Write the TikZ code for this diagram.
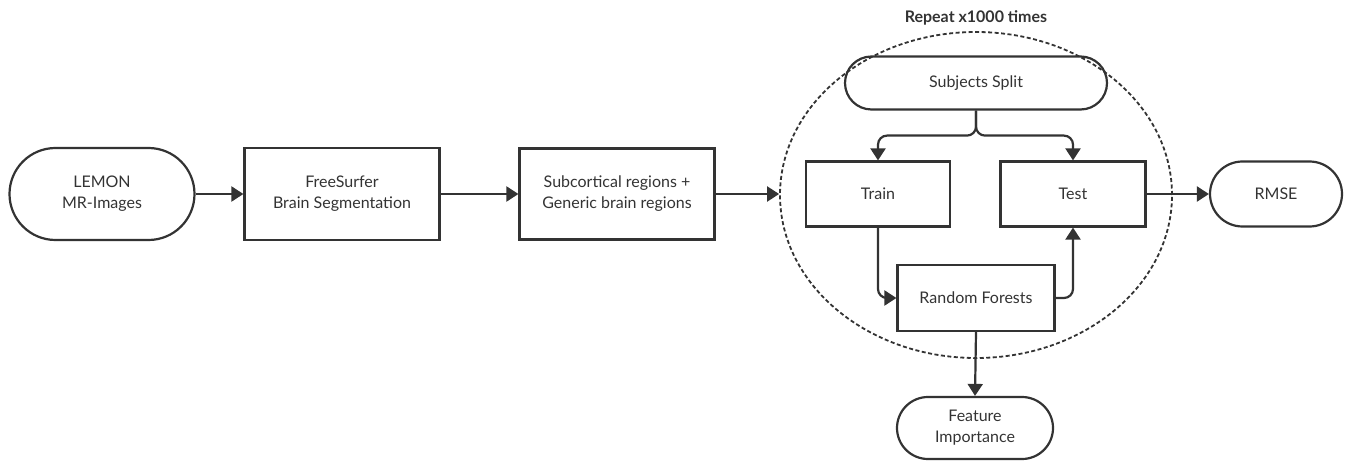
\documentclass[tikz,border=0pt]{standalone}
\usepackage{fontspec}
\setmainfont{Lato}
\usetikzlibrary{arrows.meta,shapes.misc,shapes.geometric,calc}
\begin{document}
\begin{tikzpicture}[x=1pt,y=-1pt,
  every node/.style={font=\fontsize{16}{21}\selectfont, text=black!80, align=center, inner sep=0pt},
  term/.style={draw=black!80, line width=2.2pt, rounded rectangle, minimum width=#1, minimum height=92pt},
  proc/.style={draw=black!80, line width=2.2pt, rectangle},
  conn/.style={draw=black!80, line width=2.2pt, -{Triangle[width=15pt,length=12pt]}, rounded corners=9pt},
]
\useasboundingbox (0,0) rectangle (1346,462);
% dashed loop
\node (loop) [draw=black!80, dash pattern=on 4pt off 2.5pt, line width=1.8pt, ellipse, minimum width=392pt, minimum height=326pt] at (976,195) {};
\node (rep) at (976,18) {\fontsize{16}{19}\selectfont\bfseries Repeat x1000 times};
\node (lemon) [term=185pt] at (102,194) {LEMON\\MR-Images};
\node (fs) [proc, minimum width=195pt, minimum height=92pt] at (342,194) {FreeSurfer\\Brain Segmentation};
\node (sub) [proc, minimum width=195pt, minimum height=91pt] at (617,194) {Subcortical regions +\\Generic brain regions};
\node (split) [term=262pt, minimum height=53pt] at (976,83) {Subjects Split};
\node (train) [proc, minimum width=144pt, minimum height=65pt] at (878,194) {Train};
\node (test) [proc, minimum width=145pt, minimum height=65pt] at (1073,194) {Test};
\node (rf) [proc, minimum width=157pt, minimum height=66pt] at (976,298) {Random Forests};
\node (fi) [term=156pt, minimum height=62pt] at (975,428) {Feature\\Importance};
\node (rmse) [term=132pt, minimum height=65pt] at (1276,194) {RMSE};
% connectors
\draw[conn] (lemon.east) -- (fs.west);
\draw[conn] (fs.east) -- (sub.west);
\draw[conn] (sub.east) -- (sub.east -| loop.west);
\draw[conn] (split.south) -- ++(0,25) -| (train.north);
\draw[conn] (split.south) -- ++(0,25) -| (test.north);
\draw[conn] (train.south) |- (rf.west);
\draw[conn] (rf.east) -| (test.south);
\draw[conn] (test.east) -- (rmse.west);
\draw[conn] (rf.south) -- (fi.north);
\end{tikzpicture}
\end{document}
